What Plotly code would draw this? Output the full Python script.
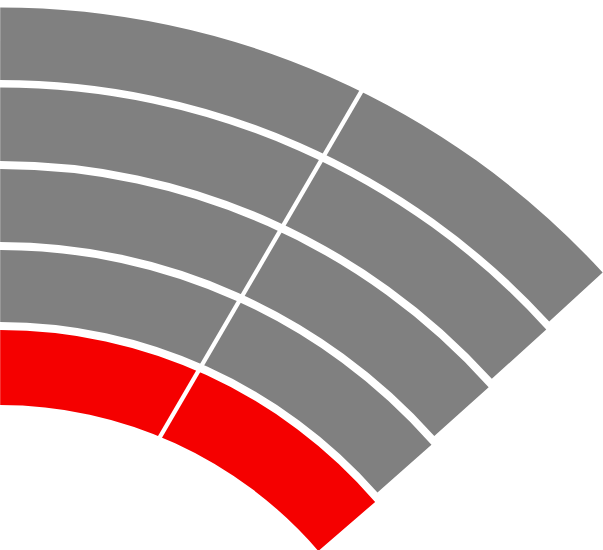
import plotly.graph_objects as go

# ---- data ----
ring_names = ["Ring 1", "Ring 2", "Ring 3", "Ring 4", "Ring 5"]
ring_inner = [745, 664, 583, 503, 420]
ring_outer = [817.5, 737.5, 656, 575, 495]
ring_start_deg = [90, 90, 90, 90, 90]
ring_end_deg = [42.52, 42.22, 41.86, 41.39, 40.74]
ring_colors = ["#808080", "#808080", "#808080", "#808080", "#f50000"]

divider_r = [838.5, 392.2]
divider_theta = [63.68, 68.16]

# ---- derived bar geometry ----
thickness = [o - i for o, i in zip(ring_outer, ring_inner)]
theta_mid = [(s + e) / 2 for s, e in zip(ring_start_deg, ring_end_deg)]
span = [s - e for s, e in zip(ring_start_deg, ring_end_deg)]

fig = go.Figure()
fig.add_trace(go.Barpolar(
    r=thickness, base=ring_inner, theta=theta_mid, width=span,
    text=ring_names,
    marker=dict(color=ring_colors, line=dict(width=0)),
    hoverinfo="skip",
))
fig.add_trace(go.Scatterpolar(
    r=divider_r, theta=divider_theta, mode="lines",
    line=dict(color="white", width=4.3),
    cliponaxis=True, hoverinfo="skip",
))

fig.update_layout(
    width=676, height=825,
    margin=dict(l=0, r=0, t=0, b=0, pad=0),
    paper_bgcolor="white",
    showlegend=False,
    polar=dict(
        sector=[35, 90],
        bgcolor="white",
        domain=dict(x=[0, 1], y=[0, 1]),
        radialaxis=dict(range=[0, 825], visible=False),
        angularaxis=dict(visible=False, rotation=0, direction="counterclockwise"),
    ),
)

post = ("document.body.style.margin='0';"
        "document.body.style.overflow='hidden';"
        "document.documentElement.style.overflow='hidden';")
fig.write_html("out.html", config={"displayModeBar": False}, post_script=post)
